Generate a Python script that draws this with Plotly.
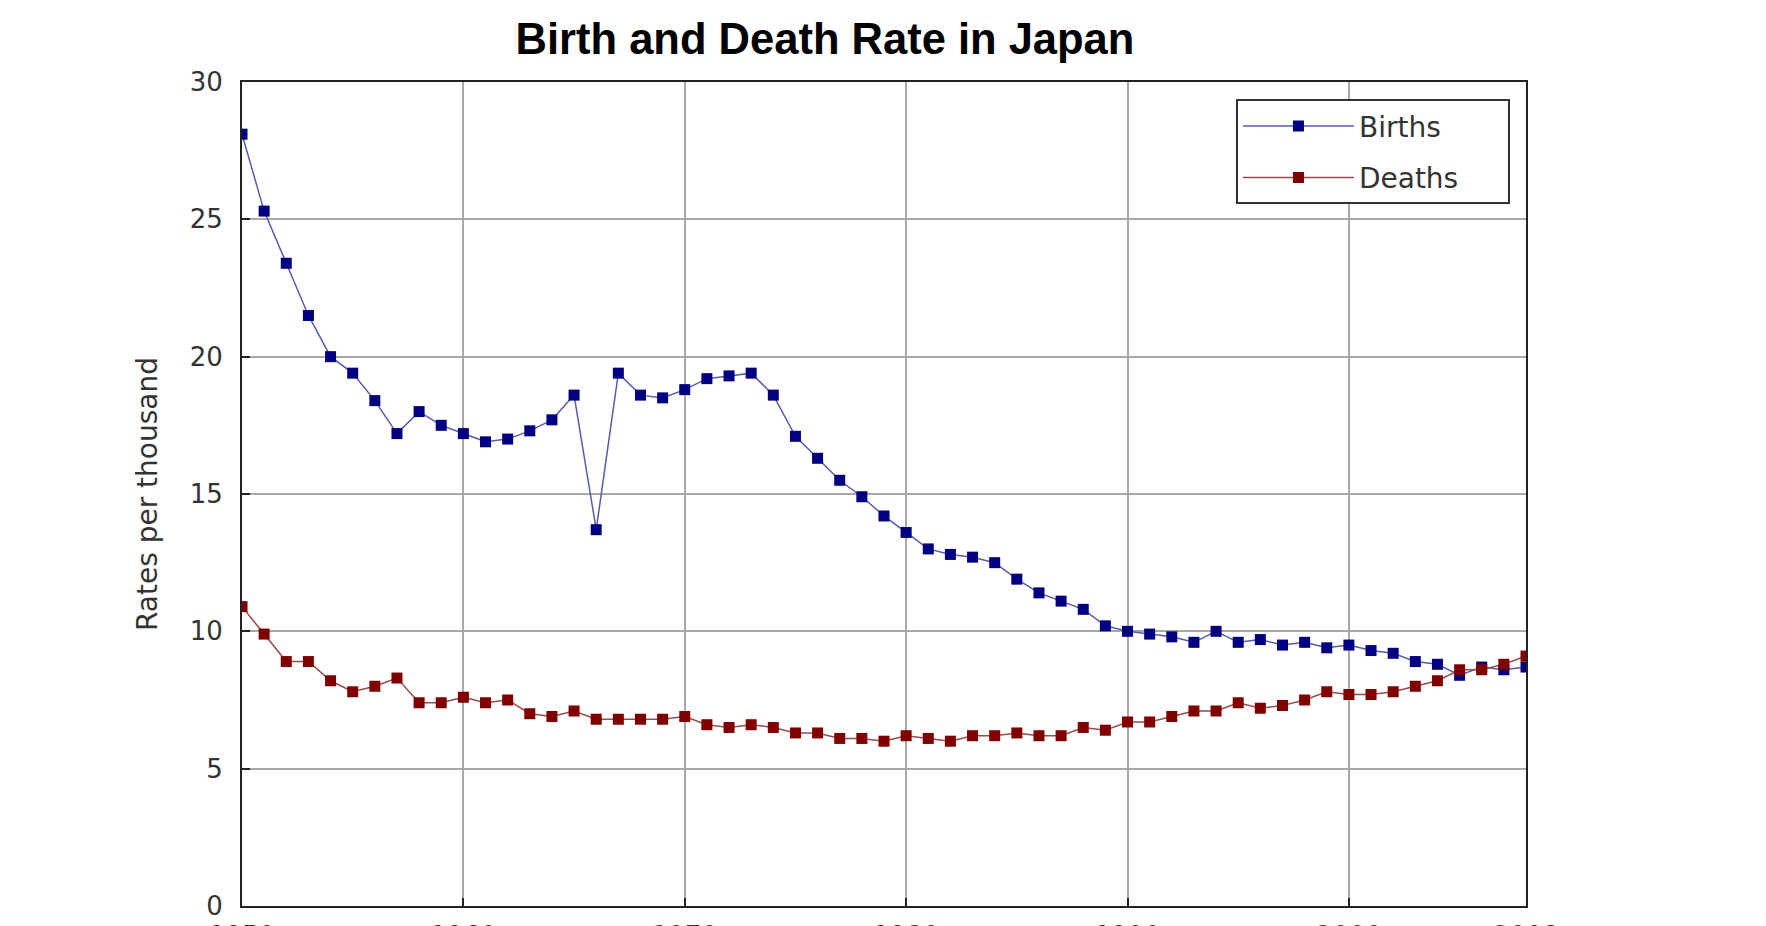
import plotly.graph_objects as go

years = list(range(1950, 2009))
births = [28.1, 25.3, 23.4, 21.5, 20.0, 19.4, 18.4, 17.2, 18.0, 17.5,
          17.2, 16.9, 17.0, 17.3, 17.7, 18.6, 13.7, 19.4, 18.6, 18.5,
          18.8, 19.2, 19.3, 19.4, 18.6, 17.1, 16.3, 15.5, 14.9, 14.2,
          13.6, 13.0, 12.8, 12.7, 12.5, 11.9, 11.4, 11.1, 10.8, 10.2,
          10.0, 9.9, 9.8, 9.6, 10.0, 9.6, 9.7, 9.5, 9.6, 9.4,
          9.5, 9.3, 9.2, 8.9, 8.8, 8.4, 8.7, 8.6, 8.7]
deaths = [10.9, 9.9, 8.9, 8.9, 8.2, 7.8, 8.0, 8.3, 7.4, 7.4,
          7.6, 7.4, 7.5, 7.0, 6.9, 7.1, 6.8, 6.8, 6.8, 6.8,
          6.9, 6.6, 6.5, 6.6, 6.5, 6.3, 6.3, 6.1, 6.1, 6.0,
          6.2, 6.1, 6.0, 6.2, 6.2, 6.3, 6.2, 6.2, 6.5, 6.4,
          6.7, 6.7, 6.9, 7.1, 7.1, 7.4, 7.2, 7.3, 7.5, 7.8,
          7.7, 7.7, 7.8, 8.0, 8.2, 8.6, 8.6, 8.8, 9.1]
series_names = ["Births", "Deaths"]
x_ticks = [1950, 1960, 1970, 1980, 1990, 2000, 2008]
y_ticks = [0, 5, 10, 15, 20, 25, 30]

FONT = "DejaVu Sans"
PAD = "\u00a0" * 5  # trailing padding inside the legend box

fig = go.Figure()
fig.add_trace(go.Scatter(
    x=years, y=births, name=series_names[0] + PAD, mode="lines+markers", legendgroup="b",
    line=dict(color="#5a5aaa", width=1.5),
    marker=dict(symbol="square", size=11, color="#000080"),
))
fig.add_trace(go.Scatter(
    x=years, y=deaths, name=series_names[1] + PAD, mode="lines+markers", legendgroup="d",
    line=dict(color="#9a4a4a", width=1.5),
    marker=dict(symbol="square", size=11, color="#800000"),
))

fig.update_layout(
    width=1766, height=926,
    paper_bgcolor="white", plot_bgcolor="white",
    margin=dict(l=234, r=248, t=74, b=28, autoexpand=False),
    title=dict(text="<b>Birth and Death Rate in Japan</b>",
               x=817 / 1766, xanchor="center", y=1 - 31 / 926, yanchor="middle",
               font=dict(family="Liberation Sans", size=43.5, color="black")),
    font=dict(family=FONT, color="#333333"),
    showlegend=True,
    legend=dict(x=0.9875, xanchor="right", y=0.979, yanchor="top",
                bordercolor="#333333", borderwidth=2, bgcolor="white",
                font=dict(family=FONT, size=28, color="#333333"),
                itemwidth=111, traceorder="grouped", tracegroupgap=12),
)
fig.update_xaxes(
    range=[1950, 2008], tickvals=x_ticks, ticktext=[str(v) for v in x_ticks],
    showgrid=True, gridcolor="#a8a8a8", gridwidth=2,
    showline=True, linecolor="#222222", linewidth=2, mirror=True,
    ticks="inside", ticklen=8, tickcolor="#222222", tickwidth=2,
    tickfont=dict(family=FONT, size=26, color="#333333"),
    zeroline=False, automargin=False, ticklabelstandoff=6,
)
fig.update_yaxes(
    range=[0, 30], tickvals=y_ticks,
    showgrid=True, gridcolor="#a8a8a8", gridwidth=2,
    showline=True, linecolor="#222222", linewidth=2, mirror=True,
    ticks="inside", ticklen=8, tickcolor="#222222", tickwidth=2,
    tickfont=dict(family=FONT, size=26, color="#333333"),
    zeroline=False, automargin=False, ticklabelstandoff=12,
    title=dict(text="Rates per thousand", standoff=24,
               font=dict(family=FONT, size=28, color="#333333")),
)

fig.write_html("out.html")
